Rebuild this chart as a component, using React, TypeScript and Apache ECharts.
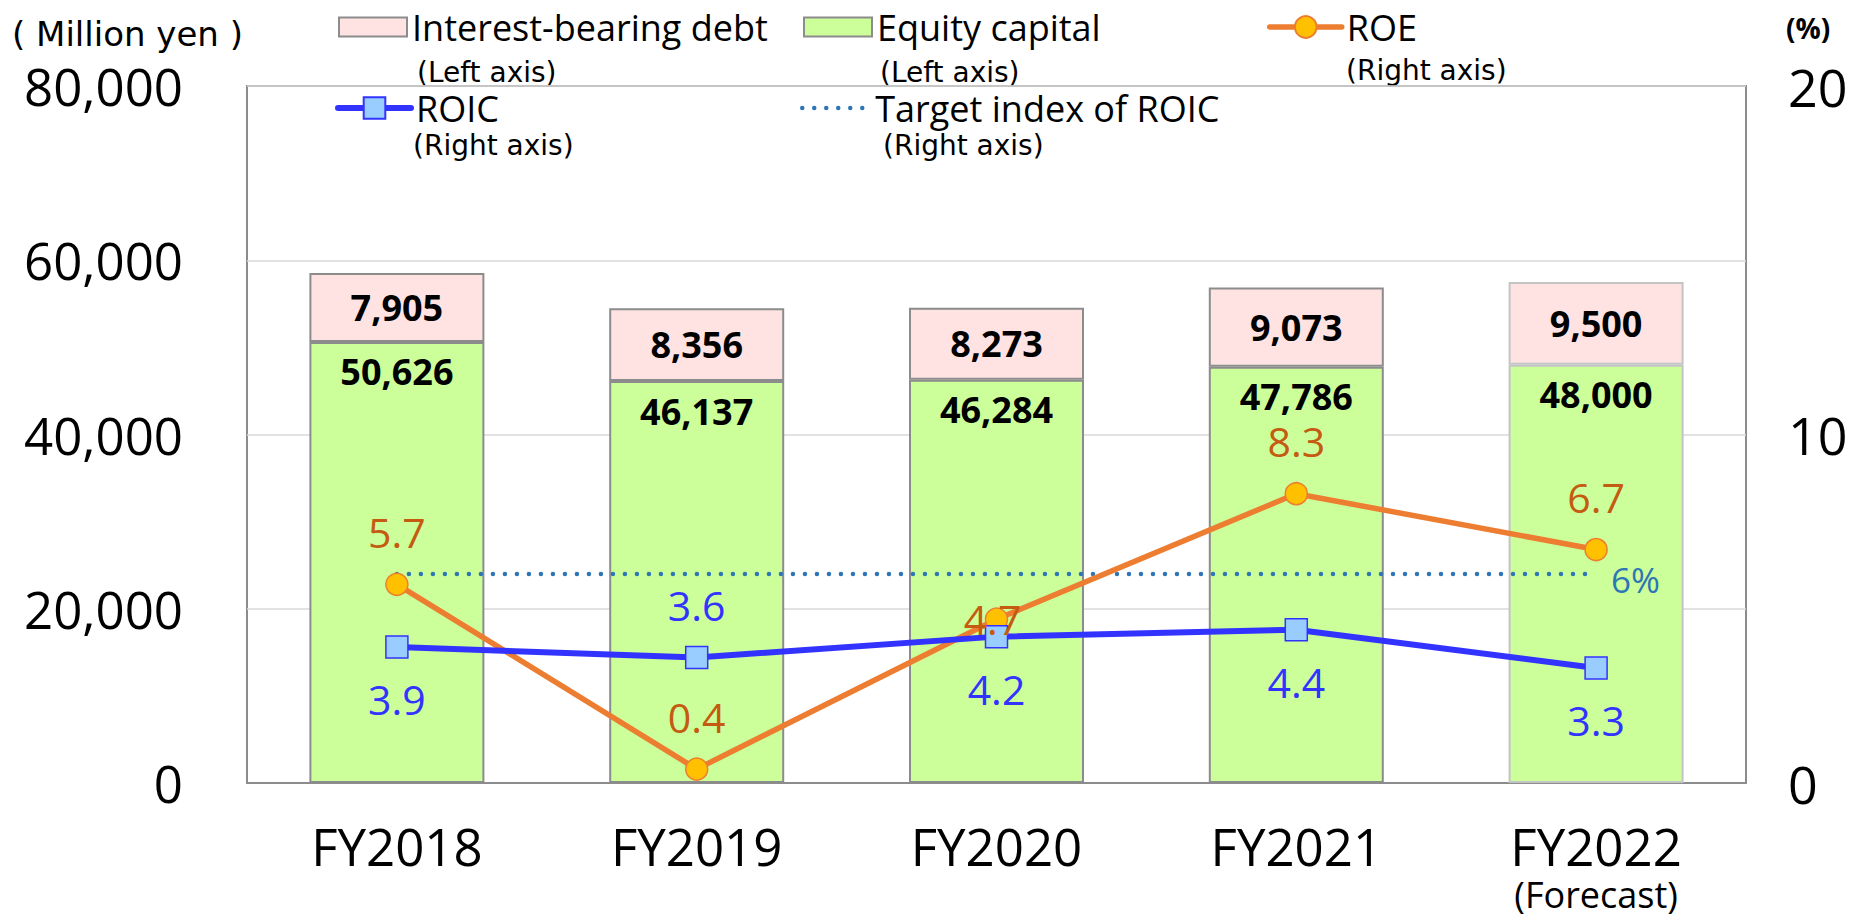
import React, { useEffect, useRef } from 'react';
import * as echarts from 'echarts';

const categories = ['FY2018', 'FY2019', 'FY2020', 'FY2021', 'FY2022'];
const categoryNotes = ['', '', '', '', '(Forecast)'];
const interestBearingDebt = [7905, 8356, 8273, 9073, 9500];
const equityCapital = [50626, 46137, 46284, 47786, 48000];
const roe = [5.7, 0.4, 4.7, 8.3, 6.7];
const roic = [3.9, 3.6, 4.2, 4.4, 3.3];
const roicTarget = [6, 6, 6, 6, 6];
const leftAxisTicks = [0, 20000, 40000, 60000, 80000];
const rightAxisTicks = [0, 10, 20];

const OS = "'Open Sans', sans-serif";
const DJ = "'DejaVu Sans', sans-serif";
const fmt = (v: number) => v.toLocaleString('en-US');

export default function App() {
  const ref = useRef<HTMLDivElement>(null);
  useEffect(() => {
    if (!ref.current) return;
    const chart = echarts.init(ref.current, null, { renderer: 'svg' });
    const legendBase: any = {
      orient: 'horizontal',
      padding: 0,
      selectedMode: false,
      itemGap: 0,
      textStyle: { fontFamily: OS, fontSize: 36, color: '#000', lineHeight: 40 },
    };
    const subNote = (text: string, x: number, y: number) => ({
      type: 'text',
      x,
      y,
      style: { text, fontFamily: DJ, fontSize: 28, fill: '#000', align: 'left', verticalAlign: 'middle' },
    });
    const targetLine = { color: '#2E75B6', width: 4.5, type: [0.001, 12], cap: 'round' };
    const roeLine = { color: '#ED7D31', width: 5.5, cap: 'round' };
    const roicLine = { color: '#3333FF', width: 6, cap: 'round' };
    const option: any = {
      animation: false,
      backgroundColor: '#fff',
      grid: {
        left: 247,
        right: 106,
        top: 86,
        bottom: 133,
        show: true,
        borderColor: '#8C8C8C',
        borderWidth: 2,
        backgroundColor: 'transparent',
        outerBoundsMode: 'none',
        containLabel: false,
      },
      legend: [
        { ...legendBase, data: ['Interest-bearing debt'], left: 338, top: 7, itemWidth: 68, itemHeight: 19, icon: 'rect' },
        { ...legendBase, data: ['Equity capital'], left: 803, top: 7, itemWidth: 68, itemHeight: 19, icon: 'rect' },
        { ...legendBase, data: ['ROE'], left: 1267, top: 7, itemWidth: 72, itemHeight: 27, lineStyle: roeLine },
        { ...legendBase, data: ['ROIC'], left: 335, top: 88, itemWidth: 73, itemHeight: 27, lineStyle: roicLine },
        {
          ...legendBase,
          data: ['Target index of ROIC'],
          left: 800,
          top: 88,
          itemWidth: 68,
          itemHeight: 27,
          itemStyle: { opacity: 0 },
          lineStyle: targetLine,
        },
      ],
      graphic: [
        subNote('(Left axis)', 417, 72),
        subNote('(Left axis)', 880, 72),
        subNote('(Right axis)', 1346, 70),
        subNote('(Right axis)', 413, 145),
        subNote('(Right axis)', 883, 145),
      ],
      xAxis: {
        type: 'category',
        data: categories,
        axisTick: { show: false },
        axisLine: { show: true, lineStyle: { color: '#8C8C8C', width: 2 } },
        axisLabel: {
          fontFamily: OS,
          fontSize: 51,
          color: '#000',
          margin: 36,
          lineHeight: 54,
          interval: 0,
          formatter: (v: string, i: number) => (categoryNotes[i] ? `${v}\n{f|${categoryNotes[i]}}` : v),
          rich: { f: { fontFamily: OS, fontSize: 36, lineHeight: 42, color: '#000' } },
        },
      },
      yAxis: [
        {
          type: 'value',
          position: 'left',
          min: leftAxisTicks[0],
          max: leftAxisTicks[leftAxisTicks.length - 1],
          interval: leftAxisTicks[1] - leftAxisTicks[0],
          axisLine: { show: false },
          axisTick: { show: false },
          splitLine: { show: true, lineStyle: { color: '#D9D9D9', width: 1.5 } },
          axisLabel: { fontFamily: OS, fontSize: 51, color: '#000', margin: 64, formatter: (v: number) => fmt(v) },
          name: '( Million yen )',
          nameLocation: 'end',
          nameGap: 52,
          nameTextStyle: { fontFamily: DJ, fontSize: 34, color: '#000', align: 'right', verticalAlign: 'middle', padding: [0, 4, 0, 0] },
        },
        {
          type: 'value',
          position: 'right',
          min: rightAxisTicks[0],
          max: rightAxisTicks[rightAxisTicks.length - 1],
          interval: rightAxisTicks[1] - rightAxisTicks[0],
          axisLine: { show: false },
          axisTick: { show: false },
          splitLine: { show: false },
          axisLabel: { fontFamily: OS, fontSize: 52, color: '#000', margin: 42 },
          name: '(%)',
          nameLocation: 'end',
          nameGap: 58,
          nameTextStyle: { fontFamily: OS, fontWeight: 'bold', fontSize: 28, color: '#000', align: 'left', verticalAlign: 'middle', padding: [0, 0, 0, 40] },
        },
      ],
      series: [
        {
          name: 'Equity capital',
          type: 'bar',
          stack: 'capital',
          yAxisIndex: 0,
          barWidth: 175,
          itemStyle: { color: '#CCFF99', borderColor: '#8C8C8C', borderWidth: 2 },
          label: {
            show: true,
            position: 'insideTop',
            distance: 12,
            fontFamily: OS,
            fontWeight: 'bold',
            fontSize: 36,
            color: '#000',
            formatter: (p: any) => fmt(p.value),
          },
          data: equityCapital.map((v, i) => ({ value: v, itemStyle: categoryNotes[i] ? { borderColor: '#C4C4C4' } : {} })),
        },
        {
          name: 'Interest-bearing debt',
          type: 'bar',
          stack: 'capital',
          yAxisIndex: 0,
          barWidth: 175,
          itemStyle: { color: '#FFE3E3', borderColor: '#8C8C8C', borderWidth: 2 },
          label: {
            show: true,
            position: 'inside',
            fontFamily: OS,
            fontWeight: 'bold',
            fontSize: 36,
            color: '#000',
            formatter: (p: any) => fmt(p.value),
          },
          data: interestBearingDebt.map((v, i) => ({ value: v, itemStyle: categoryNotes[i] ? { borderColor: '#C4C4C4' } : {} })),
        },
        {
          name: 'Target index of ROIC',
          type: 'line',
          yAxisIndex: 1,
          symbol: 'none',
          lineStyle: targetLine,
          itemStyle: { color: '#2E75B6' },
          endLabel: {
            show: true,
            formatter: (p: any) => `${p.value}%`,
            fontFamily: OS,
            fontSize: 35,
            color: '#2E75B6',
            distance: 15,
            offset: [0, 6],
          },
          data: roicTarget,
        },
        {
          name: 'ROE',
          type: 'line',
          yAxisIndex: 1,
          symbol: 'circle',
          symbolSize: 22,
          lineStyle: roeLine,
          itemStyle: { color: '#FFC000', borderColor: '#ED7D31', borderWidth: 1.5 },
          label: {
            show: true,
            position: 'top',
            distance: 20,
            fontFamily: OS,
            fontSize: 41,
            color: '#C55A11',
          },
          data: roe.map((v, i) => ({
            value: v,
            label: i === 2 ? { position: 'inside', offset: [-4, 0] } : {},
          })),
        },
        {
          name: 'ROIC',
          type: 'line',
          yAxisIndex: 1,
          symbol: 'rect',
          symbolSize: 22,
          lineStyle: roicLine,
          itemStyle: { color: '#99CCFF', borderColor: '#3333FF', borderWidth: 1.5 },
          label: {
            show: true,
            position: 'bottom',
            distance: 20,
            fontFamily: OS,
            fontSize: 41,
            color: '#3333FF',
          },
          data: roic.map((v, i) => ({
            value: v,
            label: i === 1 ? { position: 'top' } : {},
          })),
        },
      ],
    };
    chart.setOption(option);
    return () => chart.dispose();
  }, []);
  return (
    <div
      ref={ref}
      style={{ position: 'absolute', left: 0, top: 0, width: 1852, height: 916, background: '#fff' }}
    />
  );
}
